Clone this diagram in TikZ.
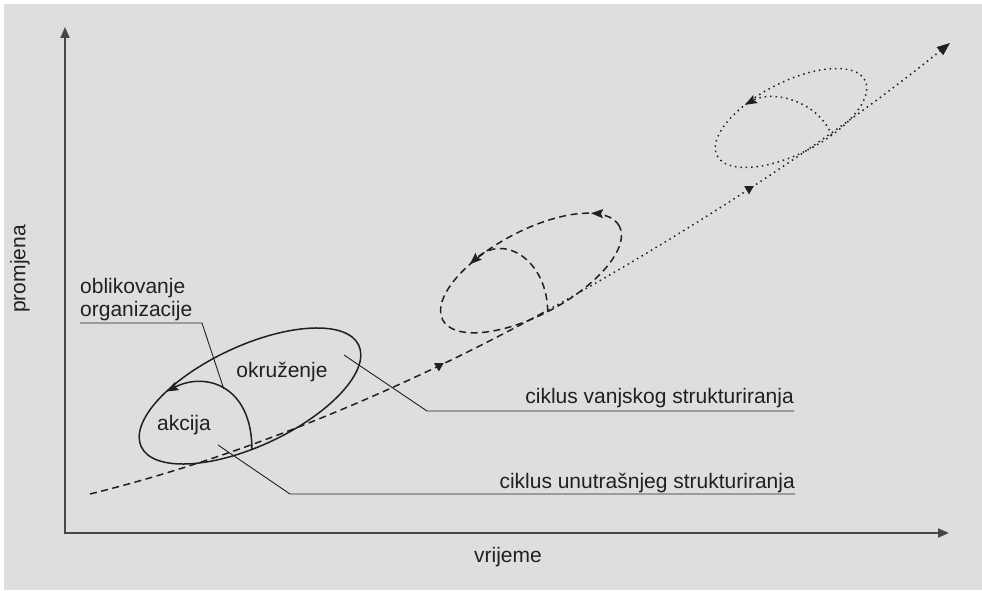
\documentclass[tikz,border=0pt]{standalone}
\usepackage{fontspec}
\setmainfont{Liberation Sans}
\usetikzlibrary{arrows.meta, positioning, shapes.geometric, decorations.markings}

\definecolor{paper}{RGB}{221,222,224}
\definecolor{ink}{RGB}{35,31,32}
\definecolor{axisgray}{RGB}{72,70,72}

\begin{document}
\begin{tikzpicture}[
	x=1pt, y=1pt,
	font=\fontsize{21}{23}\selectfont,
	every node/.style = {text=ink},
	axisline/.style = {draw=axisgray, line width=2pt},
	ring/.style = {draw=ink, line width=1.5pt},
	dashcurve/.style = {draw=ink, line width=1.5pt, dash pattern=on 7pt off 4.5pt},
	dotcurve/.style = {draw=ink, line width=1.5pt, dash pattern=on 1.5pt off 3.9pt},
	leader/.style = {draw=ink, line width=0.9pt},
	lbl/.style = {inner sep=0pt},
	arrowend/.style = {-{Stealth[length=12pt, width=9pt, inset=2pt]}},
	midtip/.style = {regular polygon, regular polygon sides=3, shape border rotate=180,
	                 fill=ink, inner sep=0pt, minimum size=11pt}
     ]
		\fill[white] (0,0) rectangle (982,590);
		\fill[paper] (4,0) rectangle (982,586);
%
		\coordinate (O) at (65,57);
		\coordinate (ytop) at (65,563);
		\coordinate (xend) at (949,57);
		\draw[axisline, {Triangle[length=11pt, width=9pt]}-{Triangle[length=11pt, width=9pt]}]
		(ytop) -- (O) -- (xend);
		\node (time) at (508,33) {vrijeme};
		\node[rotate=90] (change) at (20,321) {promjena};
%
		\coordinate (s0) at (90,96);
		\coordinate (s1) at (548,280);
		\coordinate (s2) at (950,547);
		\draw[dashcurve]
		(s0) .. controls (240,133) and (398,198) .. node[midtip, pos=0.76] (m1) {} (s1);
		\draw[dotcurve, -{Triangle[length=13pt, width=10pt]}]
		(s1) .. controls (678,352) and (820,442) .. node[midtip, pos=0.5] (m2) {} (s2);
%
		\begin{scope}[shift={(250,194)}, rotate=25]
		\draw[ring] (0,0) ellipse [x radius=120pt, y radius=50pt];
		\coordinate (e1b) at (-100:120pt and 50pt);
		\coordinate (e1t) at (128:120pt and 50pt);
		\end{scope}
		\draw[ring, arrowend]
		(e1b) .. controls +(0,64) and +(39,20) .. coordinate[pos=0.5] (orgpt) (e1t);
%
		\begin{scope}[shift={(531,317)}, rotate=28]
		\draw[dashcurve, postaction={decorate, decoration={markings,
		      mark=at position 0.07 with {\arrow{Stealth[length=12pt, width=9pt, inset=2pt]}}}}]
		(0,0) ellipse [x radius=100pt, y radius=42pt];
		\coordinate (e2b) at (-92:100pt and 42pt);
		\coordinate (e2t) at (120:100pt and 42pt);
		\end{scope}
		\draw[dashcurve, arrowend] (e2b) .. controls +(0,50) and +(35,32) .. (e2t);
%
		\begin{scope}[shift={(791,472)}, rotate=27]
		\draw[dotcurve] (0,0) ellipse [x radius=83pt, y radius=36pt];
		\coordinate (e3b) at (-70:83pt and 36pt);
		\coordinate (e3t) at (115:83pt and 36pt);
		\end{scope}
		\draw[dotcurve, arrowend] (e3b) .. controls +(-14,35) and +(27,15) .. (e3t);
%
		\node (env) at (282,218) {okruženje};
		\node (act) at (184,165) {akcija};
		\node[lbl, anchor=south west, align=left] (org) at (80,268.5) {oblikovanje\\organizacije};
		\node[lbl, anchor=south east] (outer) at (794,181.6) {ciklus vanjskog strukturiranja};
		\node[lbl, anchor=south east] (inner) at (795,96.6) {ciklus unutrašnjeg strukturiranja};
%
		\coordinate (envpt) at (344,235);
		\coordinate (actpt) at (218,145);
		\draw[leader] ([yshift=-1.5pt]org.south west) -- ++(122,0) -- (orgpt);
		\draw[leader] (envpt) -- (427,179) -- ([yshift=-2.6pt]outer.south east);
		\draw[leader] (actpt) -- (290,96) -- ([yshift=-0.6pt]inner.south east);
\end{tikzpicture}
\end{document}
